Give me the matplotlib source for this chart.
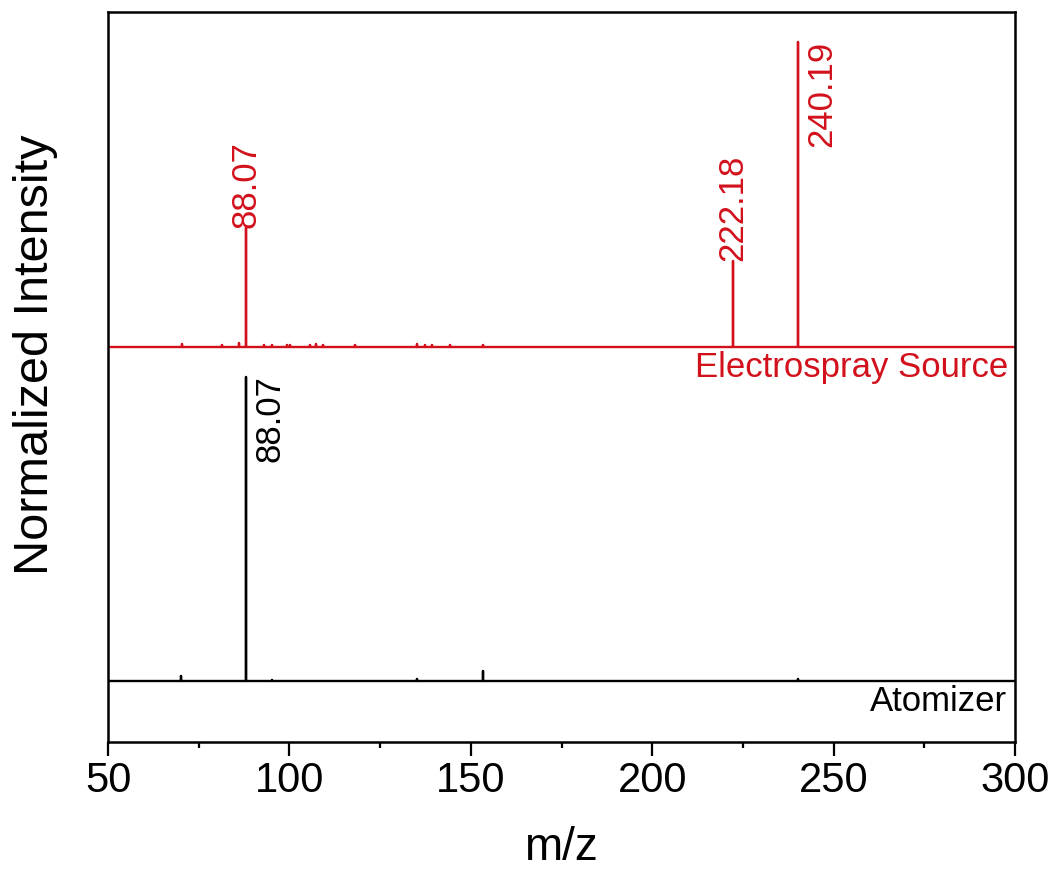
import matplotlib.pyplot as plt
import numpy as np

plt.rcParams['font.family'] = ['Liberation Sans', 'DejaVu Sans']

# peak lists (m/z, normalized intensity)
es_mz = [70.3, 81.3, 86.2, 88.07, 93.0, 95.1, 99.3, 100.2, 105.7, 107.3, 109.2,
         118.1, 135.1, 137.4, 139.2, 144.3, 153.3, 222.18, 240.19]
es_int = [0.007, 0.004, 0.013, 0.39, 0.006, 0.006, 0.004, 0.004, 0.004, 0.01, 0.004,
          0.004, 0.01, 0.006, 0.006, 0.004, 0.004, 0.28, 1.0]
at_mz = [70.2, 88.07, 95.1, 135.1, 153.3, 240.2]
at_int = [0.016, 1.0, 0.004, 0.007, 0.035, 0.006]

es_labels = ["88.07", "222.18", "240.19"]
at_labels = ["88.07"]

red = '#d2111c'
offset = 1.1


def sticks(mz, inten, base):
    # stick spectrum drawn as one line: baseline with vertical spikes
    xs = [50]
    ys = [base]
    for m, h in zip(mz, inten):
        xs += [m, m, m]
        ys += [base, base + h, base]
    xs.append(300)
    ys.append(base)
    return np.array(xs), np.array(ys)


fig = plt.figure(figsize=(10.55, 8.81), dpi=100)
ax = fig.add_axes([108/1055, 1-742/881, (1015-108)/1055, (742-12)/881])

x, y = sticks(at_mz, at_int, 0)
ax.plot(x, y, color='black', lw=1.7)
x, y = sticks(es_mz, es_int, offset)
ax.plot(x, y, color=red, lw=1.7)

ax.set_xlim(50, 300)
ax.set_ylim(-0.2, 2.2)

# peak labels
for lab in es_labels:
    m = float(lab)
    h = es_int[es_mz.index(m)]
    if h >= 1.0:
        ax.annotate(lab, xy=(m, offset + h), xytext=(5, 1), textcoords='offset points',
                    rotation=90, ha='left', va='top', color=red, fontsize=25)
    else:
        ax.annotate(lab, xy=(m, offset + h), xytext=(0, 0), textcoords='offset points',
                    rotation=90, ha='center', va='bottom', color=red, fontsize=25)
for lab in at_labels:
    m = float(lab)
    h = at_int[at_mz.index(m)]
    ax.annotate(lab, xy=(m, h), xytext=(5, 1), textcoords='offset points',
                rotation=90, ha='left', va='top', color='black', fontsize=25)

ax.annotate("Electrospray Source", xy=(1, offset), xycoords=('axes fraction', 'data'),
            xytext=(-5, -3), textcoords='offset points', ha='right', va='top',
            color=red, fontsize=25)
ax.annotate("Atomizer", xy=(1, 0), xycoords=('axes fraction', 'data'),
            xytext=(-6, -3), textcoords='offset points', ha='right', va='top',
            color='black', fontsize=25)

ax.set_xticks(range(50, 301, 50))
ax.set_xticks(range(75, 300, 50), minor=True)
ax.set_yticks([])
ax.tick_params(axis='x', which='major', direction='out', length=10, width=1.6,
               labelsize=30, pad=4)
ax.tick_params(axis='x', which='minor', direction='out', length=4.5, width=1.6)
for s in ax.spines.values():
    s.set_linewidth(1.8)

fig.text(561/1055, 1-848/881, "m/z", fontsize=33, ha='center', va='center')
fig.text(36/1055, 1-355/881, "Normalized Intensity", fontsize=35, rotation=90,
         ha='center', va='center')

plt.savefig("out.png", dpi=100)
